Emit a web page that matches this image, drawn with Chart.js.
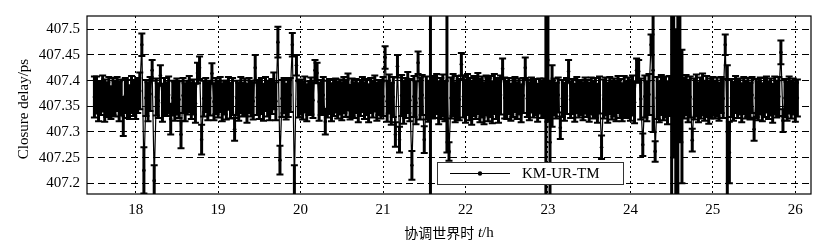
<!DOCTYPE html>
<html>
<head>
<meta charset="utf-8">
<script src="https://cdn.jsdelivr.net/npm/chart.js@4.4.0/dist/chart.umd.min.js"></script>
<style>
  html, body { margin: 0; padding: 0; background: #fff; }
  canvas { display: block; }
</style>
</head>
<body>
<canvas id="chart" width="836" height="247"></canvas>
<script>
// sampling grid of the closure delay series (hours, UTC)
const startHour = 17.5;
const stepHour = 0.025;

// closure delay (ps), one value per sample
const delays = [
  407.368,407.372,407.359,407.366,407.375,407.361,407.363,407.370,407.357,407.369,407.365,407.374,407.360,407.367,407.330,407.371,407.364,407.358,407.373,407.366,
  407.362,407.371,407.380,407.470,407.225,407.366,407.359,407.374,407.420,407.205,407.368,407.361,407.410,407.357,407.370,407.364,407.372,407.325,407.366,407.360,
  407.369,407.363,407.295,407.371,407.358,407.367,407.374,407.361,407.368,407.356,407.415,407.425,407.285,407.365,407.372,407.360,407.366,407.414,407.359,407.370,
  407.364,407.373,407.358,407.367,407.362,407.375,407.361,407.369,407.305,407.366,407.359,407.372,407.363,407.368,407.356,407.371,407.365,407.360,407.425,407.367,
  407.362,407.370,407.358,407.374,407.365,407.361,407.369,407.380,407.360,407.475,407.245,407.365,407.371,407.359,407.366,407.372,407.470,407.200,407.430,407.364,
  407.368,407.361,407.373,407.357,407.366,407.370,407.362,407.420,407.415,407.359,407.367,407.372,407.320,407.364,407.369,407.358,407.366,407.371,407.362,407.368,
  407.360,407.372,407.365,407.378,407.358,407.367,407.362,407.370,407.357,407.366,407.373,407.361,407.368,407.356,407.371,407.364,407.375,407.359,407.367,407.362,
  407.369,407.445,407.360,407.374,407.355,407.368,407.295,407.428,407.285,407.371,407.358,407.366,407.377,407.362,407.235,407.369,407.357,407.435,407.365,407.372,
  407.285,407.366,407.360,407.360,407.366,407.368,407.374,407.357,407.365,407.371,407.360,407.400,407.262,407.366,407.372,407.358,407.367,407.363,407.432,407.369,
  407.360,407.373,407.364,407.357,407.370,407.366,407.375,407.361,407.368,407.356,407.371,407.363,407.369,407.358,407.374,407.365,407.360,407.372,407.423,407.366,
  407.362,407.370,407.358,407.367,407.373,407.361,407.369,407.356,407.371,407.425,407.365,407.360,407.372,407.364,407.368,407.357,407.370,407.363,407.366,407.370,
  407.440,407.280,407.370,407.368,407.361,407.372,407.308,407.365,407.359,407.370,407.418,407.363,407.369,407.357,407.372,407.364,407.367,407.360,407.371,407.365,
  407.358,407.370,407.363,407.366,407.356,407.372,407.270,407.364,407.369,407.357,407.371,407.362,407.367,407.360,407.373,407.365,407.358,407.370,407.363,407.368,
  407.362,407.371,407.358,407.420,407.418,407.364,407.275,407.369,407.360,407.373,407.470,407.420,407.262,407.366,407.359,407.372,407.364,407.368,407.357,407.370,
  407.360,407.400,407.330,407.370,407.410,407.330,407.366,407.372,407.360,407.368,407.284,407.364,407.371,407.358,407.366,407.373,407.361,407.369,407.357,407.365,
  407.370,407.362,407.368,407.359,407.372,407.365,407.470,407.300,407.260,407.366,407.360,407.373,407.364,407.369,407.357,407.371,407.363,407.367,407.360,407.372,
  407.305,407.366,407.361,407.370,407.358,407.367,407.373,407.362,407.368,407.356,407.371,407.364,407.369,407.455,407.322,407.366,407.360,407.372,407.363,407.369,
  407.358,407.366
];

// error bar half-widths (ps)
const errors = [
  0.040,0.036,0.038,0.033,0.035,0.041,0.034,0.037,0.032,0.036,0.035,0.033,0.039,0.035,0.038,0.034,0.037,0.033,0.036,0.035,
  0.037,0.034,0.036,0.022,0.045,0.035,0.038,0.033,0.020,0.030,0.036,0.034,0.020,0.037,0.035,0.033,0.036,0.030,0.034,0.038,
  0.035,0.036,0.027,0.034,0.037,0.033,0.035,0.036,0.034,0.038,0.020,0.022,0.029,0.035,0.033,0.037,0.034,0.020,0.036,0.035,
  0.036,0.034,0.037,0.033,0.038,0.032,0.035,0.036,0.022,0.034,0.037,0.035,0.033,0.036,0.038,0.034,0.035,0.036,0.025,0.034,
  0.037,0.035,0.036,0.033,0.035,0.038,0.034,0.036,0.037,0.030,0.028,0.036,0.034,0.035,0.037,0.033,0.023,0.035,0.020,0.036,
  0.034,0.037,0.035,0.036,0.033,0.036,0.035,0.020,0.020,0.037,0.034,0.035,0.025,0.036,0.034,0.037,0.035,0.033,0.036,0.034,
  0.037,0.035,0.036,0.036,0.034,0.037,0.035,0.033,0.038,0.035,0.034,0.036,0.035,0.037,0.034,0.036,0.035,0.037,0.034,0.036,
  0.038,0.022,0.040,0.038,0.041,0.039,0.024,0.022,0.025,0.040,0.042,0.039,0.040,0.041,0.028,0.040,0.042,0.022,0.041,0.039,
  0.026,0.042,0.040,0.200,0.040,0.041,0.039,0.042,0.040,0.041,0.039,0.140,0.018,0.040,0.041,0.039,0.042,0.040,0.022,0.041,
  0.042,0.040,0.041,0.043,0.039,0.041,0.040,0.042,0.040,0.041,0.039,0.042,0.040,0.041,0.039,0.040,0.042,0.038,0.020,0.040,
  0.037,0.035,0.036,0.038,0.034,0.036,0.035,0.037,0.034,0.020,0.036,0.037,0.034,0.036,0.035,0.037,0.034,0.036,0.038,0.200,
  0.120,0.120,0.060,0.036,0.035,0.034,0.022,0.036,0.037,0.035,0.022,0.036,0.034,0.037,0.035,0.036,0.034,0.037,0.035,0.036,
  0.038,0.036,0.037,0.039,0.038,0.036,0.023,0.038,0.037,0.039,0.036,0.038,0.037,0.039,0.036,0.038,0.037,0.039,0.036,0.038,
  0.040,0.039,0.041,0.023,0.022,0.040,0.022,0.041,0.039,0.040,0.020,0.120,0.020,0.041,0.040,0.039,0.041,0.040,0.042,0.039,
  0.200,0.150,0.170,0.200,0.130,0.130,0.040,0.039,0.041,0.040,0.022,0.040,0.041,0.039,0.040,0.041,0.039,0.040,0.041,0.039,
  0.037,0.036,0.038,0.037,0.035,0.038,0.020,0.130,0.060,0.037,0.038,0.036,0.037,0.035,0.038,0.036,0.037,0.038,0.036,0.035,
  0.022,0.037,0.038,0.036,0.037,0.038,0.035,0.037,0.036,0.038,0.037,0.036,0.038,0.023,0.022,0.037,0.038,0.036,0.037,0.035,
  0.038,0.036
];

const xTicks = [18, 19, 20, 21, 22, 23, 24, 25, 26];
const yTicks = [407.2, 407.25, 407.3, 407.35, 407.4, 407.45, 407.5];
const seriesName = 'KM-UR-TM';

const serif = '"Liberation Serif", "Times New Roman", serif';

const points = delays.map((v, i) => ({ x: startHour + i * stepHour, y: v }));

// vertical error bars with caps, drawn under the line
const errorBars = {
  id: 'errorBars',
  beforeDatasetsDraw(chart) {
    const { ctx, chartArea, scales } = chart;
    ctx.save();
    ctx.beginPath();
    ctx.rect(chartArea.left, chartArea.top, chartArea.width, chartArea.height);
    ctx.clip();
    ctx.strokeStyle = '#000';
    ctx.lineCap = 'butt';
    points.forEach((p, i) => {
      const px = scales.x.getPixelForValue(p.x);
      const top = scales.y.getPixelForValue(p.y + errors[i]);
      const bot = scales.y.getPixelForValue(p.y - errors[i]);
      ctx.lineWidth = 3;
      ctx.beginPath();
      ctx.moveTo(px, top);
      ctx.lineTo(px, bot);
      ctx.stroke();
      ctx.lineWidth = 2;
      ctx.beginPath();
      ctx.moveTo(px - 3.5, top);
      ctx.lineTo(px + 3.5, top);
      ctx.moveTo(px - 3.5, bot);
      ctx.lineTo(px + 3.5, bot);
      ctx.stroke();
    });
    ctx.restore();
  }
};

// frame, axis titles and the boxed legend
const decorations = {
  id: 'decorations',
  afterDraw(chart) {
    const { ctx, chartArea } = chart;
    ctx.save();
    ctx.strokeStyle = '#000';
    ctx.lineWidth = 1.2;
    ctx.strokeRect(chartArea.left, chartArea.top, chartArea.width, chartArea.height);

    // y title
    ctx.fillStyle = '#000';
    ctx.save();
    ctx.translate(24, 109);
    ctx.rotate(-Math.PI / 2);
    ctx.font = '15px ' + serif;
    ctx.textAlign = 'center';
    ctx.textBaseline = 'middle';
    ctx.fillText('Closure delay/ps', 0, 0);
    ctx.restore();

    // x title: 协调世界时 t/h with italic t
    const parts = [
      { text: '协调世界时', font: '14px "Noto Sans CJK SC"' },
      { text: ' ', font: '15px ' + serif },
      { text: 't', font: 'italic 15px ' + serif },
      { text: '/h', font: '15px ' + serif }
    ];
    let total = 0;
    parts.forEach(p => { ctx.font = p.font; p.w = ctx.measureText(p.text).width; total += p.w; });
    let tx = (chartArea.left + chartArea.right) / 2 - total / 2;
    ctx.textAlign = 'left';
    ctx.textBaseline = 'middle';
    parts.forEach(p => { ctx.font = p.font; ctx.fillText(p.text, tx, 233); tx += p.w; });

    // legend
    ctx.fillStyle = '#fff';
    ctx.fillRect(437, 162, 186, 22);
    ctx.strokeStyle = '#333';
    ctx.lineWidth = 1;
    ctx.strokeRect(437.5, 162.5, 186, 22);
    ctx.strokeStyle = '#000';
    ctx.beginPath();
    ctx.moveTo(450, 173.5);
    ctx.lineTo(510, 173.5);
    ctx.stroke();
    ctx.fillStyle = '#000';
    ctx.beginPath();
    ctx.arc(480, 173.5, 2.2, 0, Math.PI * 2);
    ctx.fill();
    ctx.font = '15px ' + serif;
    ctx.textBaseline = 'middle';
    ctx.fillText(seriesName, 522, 174);
    ctx.restore();
  }
};

new Chart(document.getElementById('chart'), {
  type: 'line',
  data: {
    datasets: [{
      label: seriesName,
      data: points,
      borderColor: '#000',
      borderWidth: 1.2,
      backgroundColor: '#000',
      pointRadius: 1.8,
      pointBorderWidth: 0,
      pointBackgroundColor: '#000',
      tension: 0,
      fill: false
    }]
  },
  options: {
    responsive: false,
    animation: false,
    layout: { padding: { left: 0, right: 25, top: 4, bottom: 0 } },
    plugins: {
      legend: { display: false },
      tooltip: { enabled: false }
    },
    scales: {
      x: {
        type: 'linear',
        min: 17.41,
        max: 26.19,
        afterBuildTicks: s => { s.ticks = xTicks.map(v => ({ value: v })); },
        afterFit: s => { s.height = 53; },
        ticks: {
          color: '#000',
          font: { family: serif, size: 15 },
          padding: 7,
          maxRotation: 0,
          callback: v => String(v)
        },
        grid: { color: '#000', lineWidth: 1, drawTicks: false },
        border: { display: false, dash: [2, 3] }
      },
      y: {
        type: 'linear',
        min: 407.179,
        max: 407.526,
        afterBuildTicks: s => { s.ticks = yTicks.map(v => ({ value: v })); },
        afterFit: s => { s.width = 87; },
        ticks: {
          color: '#000',
          font: { family: serif, size: 15 },
          padding: 7,
          callback: v => String(v)
        },
        grid: { color: '#000', lineWidth: 1, drawTicks: false },
        border: { display: false, dash: [7, 4] }
      }
    }
  },
  plugins: [errorBars, decorations]
});
</script>
</body>
</html>
